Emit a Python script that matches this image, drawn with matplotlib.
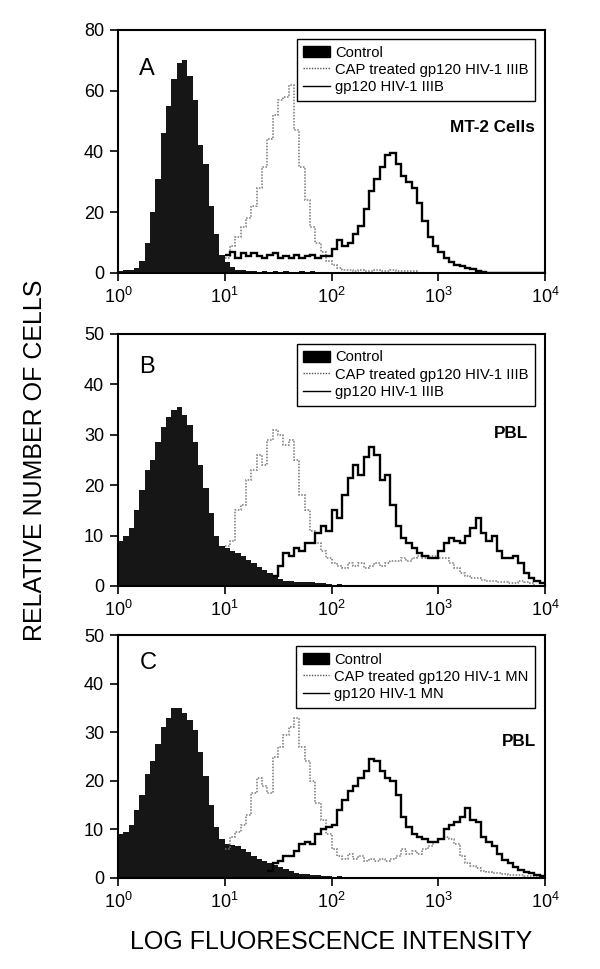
import numpy as np
import matplotlib
matplotlib.use("Agg")
import matplotlib.pyplot as plt
from matplotlib.patches import Patch
from matplotlib.lines import Line2D

plt.rcParams["font.family"] = ["Liberation Sans", "DejaVu Sans"]
plt.rcParams["mathtext.fontset"] = "custom"
plt.rcParams["mathtext.rm"] = "Liberation Sans"
plt.rcParams["mathtext.it"] = "Liberation Sans:italic"
plt.rcParams["mathtext.bf"] = "Liberation Sans:bold"

# channel bins: 20 per decade, 10^0 .. 10^4
log_edges = np.linspace(0, 4, 81)

# panel A: MT-2 cells
a_control = [0.5, 1, 1, 1.5, 4, 10, 20, 31, 46, 55, 64, 69, 70, 65, 57, 42, 36, 22, 13, 6,
             3.5, 2, 1, 1, 0.5, 0.5, 0.3, 0.5, 0.3, 0.5, 0.3, 0.5, 0.3, 0.3, 0.5, 0.3, 0.5,
             0.3, 0.3, 0.3] + [0] * 40
a_cap = [0] * 20 + [5, 9, 12, 15, 18, 22, 28, 35, 44, 52, 57, 58, 62, 47, 35, 24, 15, 10, 7, 4,
                    2.5, 1.5, 1, 1, 0.8, 1, 0.8, 0.8, 1, 0.8, 0.8, 1, 0.8, 0.5, 0.5, 0.8] + [0] * 24
a_gp120 = [0] * 20 + [6, 7, 5, 6.5, 5.5, 6.5, 5.5, 5, 6, 6.5, 5, 5.5, 5, 6, 5, 5.5, 6, 5, 5.5, 5.5,
                      8, 11, 9, 10, 13, 15.5, 21, 27, 31, 35, 39, 39.5, 36, 32, 30, 28, 23, 17, 12,
                      9, 7, 5, 3.5, 2.5, 2.2, 1.8, 1.2, 0.8, 0.3] + [0] * 11

# panel B: PBL, IIIB
b_control = [9, 10, 11.5, 15, 19, 23, 25, 28.5, 31.5, 33.5, 35, 35.5, 34, 32, 28.5, 24, 19.5,
             14.5, 10, 8, 7.5, 7, 6.5, 6, 5.2, 4.5, 3.8, 3.2, 2.5, 1.8, 1.3, 1, 1, 0.8, 0.8,
             0.7, 0.7, 0.5, 0.5, 0.3, 0, 0.3] + [0] * 38
b_cap = [0] * 20 + [8, 9, 15, 16, 21, 23, 26, 24, 29, 31, 30, 28, 29, 25, 18, 15, 11, 8.5, 7, 5.5,
                    4.5, 4, 3.5, 4.5, 4, 4.5, 3.5, 4, 4.5, 4, 4.5, 5, 5, 5.5, 5, 5.5, 6, 5.5, 6, 6,
                    5.5, 5.5, 4.5, 3.5, 2.5, 2, 1.5, 1.5, 1.2, 1, 1, 0.8, 0.8, 0.5, 0.5, 1, 0.8,
                    0.5, 0, 0]
b_gp120 = [0] * 29 + [2, 4, 6.5, 6, 7.5, 7, 8.5, 8.5, 10.5, 12, 11, 15, 13.5, 18, 21.5, 24, 22,
                      25.5, 27.5, 26, 21, 22, 16, 12, 9.5, 8.5, 7.5, 6.5, 6, 5.5, 5.5, 7, 8.5, 9.5,
                      9, 8.5, 10, 11.5, 13.5, 10.5, 9, 10, 7, 5.5, 5.5, 6, 4.5, 2.5, 1.5, 1, 0.5]

# panel C: PBL, MN
c_control = [9, 9.5, 11, 14, 17, 21.5, 24, 27.5, 31, 33, 35, 35, 34, 32.5, 30.5, 26, 21, 15,
             10.5, 8, 7, 6.8, 6.5, 6, 5.3, 4.6, 4, 3.5, 3, 2.7, 2.3, 1.8, 1.4, 1.1, 0.9, 0.8,
             0.7, 0.6, 0.5, 0.4, 0, 0.5] + [0] * 38
c_cap = [0] * 20 + [6, 8.5, 9.5, 11, 13, 17.5, 20.5, 19, 17.5, 25, 27, 29.5, 31, 33, 27, 24, 20,
                    15.5, 12, 9, 6, 4.5, 4, 5, 4, 4.5, 3.5, 4, 3.5, 4, 3.5, 4, 4.5, 6, 5, 5.5, 5,
                    6, 6.5, 7.5, 8, 8.5, 8, 7, 4.5, 3, 2.5, 2, 1.5, 1.2, 1, 1, 0.8, 0.7, 0.7, 0.6,
                    0.5, 0.5, 0.5, 0.3]
c_gp120 = [0] * 28 + [1.5, 3, 3.5, 4.5, 4.5, 5.5, 7, 7.5, 7, 9, 10, 10.5, 11, 14, 16, 18, 19,
                      20.5, 22, 24.5, 24, 22, 20.5, 20, 17, 12.5, 10.5, 9, 8.5, 8, 7.5, 7.5, 8, 10,
                      11, 11.5, 12.5, 14.5, 12, 11.5, 8.5, 7.5, 6.5, 5, 3.8, 3, 2.2, 1.6, 1.2, 1,
                      0.7, 0.5]

panels = [
    ("A", "MT-2 Cells", "HIV-1 IIIB", 80, [0, 20, 40, 60, 80], a_control, a_cap, a_gp120),
    ("B", "PBL", "HIV-1 IIIB", 50, [0, 10, 20, 30, 40, 50], b_control, b_cap, b_gp120),
    ("C", "PBL", "HIV-1 MN", 50, [0, 10, 20, 30, 40, 50], c_control, c_cap, c_gp120),
]

# axes boxes in figure pixels (left, top, right, bottom)
W, H = 600, 969
boxes = [(118, 30, 545, 273), (118, 334, 545, 586), (118, 635, 545, 878)]
legend_tops = [0.963, 0.961, 0.955]
letter_y = [0.84, 0.87, 0.885]
cell_xy = [(0.977, 0.60), (0.96, 0.607), (0.98, 0.56)]

fig = plt.figure(figsize=(W / 100, H / 100), dpi=100)
edges = 10 ** log_edges


def trace(ax, vals, **kw):
    # draw only from the first non-empty channel on, like the cytometer trace
    vals = np.asarray(vals, dtype=float)
    i0 = int(np.argmax(vals > 0))
    ax.stairs(vals[i0:], edges[i0:], baseline=None, **kw)


for k, (letter, cells, strain, ymax, yticks, ctrl, cap, gp) in enumerate(panels):
    l, t, r, b = boxes[k]
    ax = fig.add_axes([l / W, 1 - b / H, (r - l) / W, (b - t) / H])
    ax.stairs(ctrl, edges, fill=True, color="#161616", lw=0, zorder=1)
    trace(ax, cap, color="#777777", ls=(0, (1, 1)), lw=1.1, zorder=2)
    trace(ax, gp, color="black", lw=1.7, zorder=3)

    ax.set_xscale("log")
    ax.set_xlim(1, 1e4)
    ax.set_ylim(0, ymax)
    ax.set_yticks(yticks)
    ax.set_xticks([1, 10, 100, 1000, 10000])
    ax.xaxis.set_minor_locator(matplotlib.ticker.NullLocator())
    ax.tick_params(axis="both", direction="out", length=6, width=1.2, labelsize=13, pad=4,
                   top=False, right=False)
    for s in ax.spines.values():
        s.set_linewidth(1.5)

    handles = [
        Patch(facecolor="black", edgecolor="black"),
        Line2D([], [], color="#555555", ls=(0, (1, 1)), lw=1),
        Line2D([], [], color="black", lw=1),
    ]
    labels = ["Control", f"CAP treated gp120 {strain}", f"gp120 {strain}"]
    leg = ax.legend(handles, labels, loc="upper right", bbox_to_anchor=(0.977, legend_tops[k]),
                    borderaxespad=0, fancybox=False, edgecolor="black", fontsize=10.6,
                    handlelength=1.8, handleheight=0.8, handletextpad=0.35, labelspacing=0.22,
                    borderpad=0.45, framealpha=1)
    leg.get_frame().set_linewidth(1.0)

    ax.text(0.05, letter_y[k], letter, transform=ax.transAxes, fontsize=17, va="center")
    ax.text(cell_xy[k][0], cell_xy[k][1], cells, transform=ax.transAxes, fontsize=12.3,
            fontweight="bold", ha="right", va="center")

fig.text(35 / W, 1 - 460 / H, "RELATIVE NUMBER OF CELLS", rotation=90, fontsize=18,
         ha="center", va="center")
fig.text(331.5 / W, 1 - 942 / H, "LOG FLUORESCENCE INTENSITY", fontsize=18,
         ha="center", va="center")

fig.savefig("out.png", dpi=100)
